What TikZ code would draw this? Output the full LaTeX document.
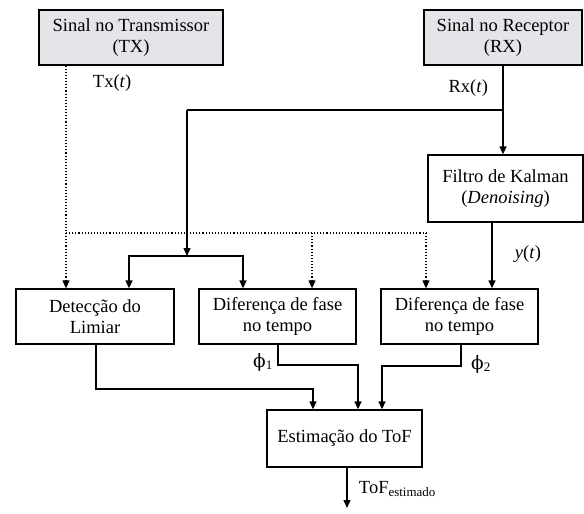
\documentclass[tikz,border=0pt]{standalone}
\usepackage{fontspec}
\setmainfont{Liberation Serif}
\newfontfamily\phifont{DejaVu Serif}
\usetikzlibrary{arrows.meta}
\tikzset{
  box/.style={draw, line width=1.3pt, align=center, inner sep=0pt},
  srcbox/.style={box, fill={rgb,255:red,228;green,229;blue,232}},
  dotline/.style={line width=1.1pt, dotted},
}
\begin{document}
\begin{tikzpicture}[x=1pt, y=-1pt, line width=1.3pt, >={Triangle[length=8pt,width=7pt]},
    every node/.style={font=\fontsize{18.5}{21}\selectfont}]
    \useasboundingbox (0,0) rectangle (584,514);
    \node[srcbox, minimum width=184pt, minimum height=55pt] (tx) at (131,37.5) {Sinal no Transmissor\\(TX)};
    \node[srcbox, minimum width=158pt, minimum height=55pt] (rx) at (503,37.5) {Sinal no Receptor\\(RX)};
    \node[box, minimum width=155pt, minimum height=67pt] (kal) at (505.5,188.5) {Filtro de Kalman\\(\textit{Denoising})};
    \node[box, minimum width=158pt, minimum height=55pt] (det) at (95,316.5) {Detecção do\\Limiar};
    \node[box, minimum width=157pt, minimum height=55pt] (done) at (277.5,316.5) {Diferença de fase\\no tempo};
    \node[box, minimum width=157pt, minimum height=55pt] (dtwo) at (459.5,316.5) {Diferença de fase\\no tempo};
    \node[box, minimum width=155pt, minimum height=57pt] (est) at (344.5,438.5) {Estimação do ToF};
    \node[anchor=west] (txl) at (89,83) {Tx(\textit{t})};
    \node[anchor=east] (rxl) at (492,88) {Rx(\textit{t})};
    \node[anchor=west] (ytl) at (511,254) {\textit{y}(\textit{t})};
    \node (phione) at (263,362) {{\phifont ϕ}\textsubscript{1}};
    \node (phitwo) at (481,364) {{\phifont ϕ}\textsubscript{2}};
    \node[anchor=west] (tofl) at (355,489) {ToF\textsubscript{estimado}};
    \coordinate (dl) at (66,233);
    \coordinate (dm) at (312,233);
    \coordinate (dr) at (426,233);
    \coordinate (rj) at (187,110);
    \coordinate (bj) at (187,256);
    \coordinate (out) at (347,508);
    \draw[dotline,->] (tx.south -| dl) -- (det.north -| dl);
    \draw[dotline] (dl) -- (dr);
    \draw[dotline,->] (dm) -- (done.north -| dm);
    \draw[dotline,->] (dr) -- (dtwo.north -| dr);
    \draw[->] (rx.south) -- (kal.north -| rx.south);
    \draw (rx.south |- rj) -- (rj);
    \draw[->] (rj) -- (bj);
    \draw[->] (bj) -| (det.north -| 129,0);
    \draw[->] (bj) -| (done.north -| 243,0);
    \draw[->] (kal.south -| 492,0) -- (dtwo.north -| 492,0);
    \draw[->] (done.south -| 278,0) |- (358,365) -- (est.north -| 358,0);
    \draw[->] (dtwo.south -| 461,0) |- (382,366) -- (est.north -| 382,0);
    \draw[->] (det.south -| 96,0) |- (313,389) -- (est.north -| 313,0);
    \draw[->] (est.south -| out) -- (out);
\end{tikzpicture}
\end{document}
